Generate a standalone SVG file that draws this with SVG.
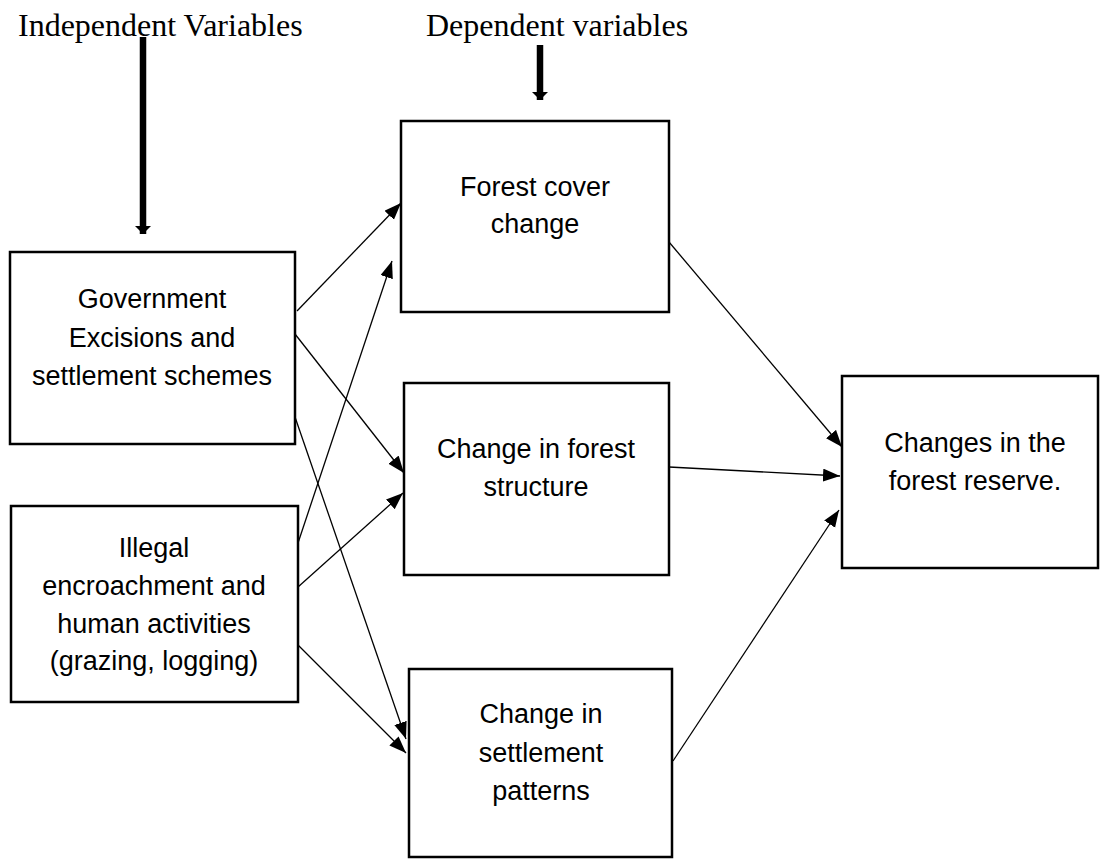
<svg xmlns="http://www.w3.org/2000/svg" width="1100" height="859" viewBox="0 0 1100 859">
<defs>
<style>
.box{fill:#fff;stroke:#000;stroke-width:2.5}
.t{font-family:"Liberation Sans",Arial,sans-serif;font-size:27px;fill:#000;text-anchor:middle}
.h{font-family:"Liberation Serif","Times New Roman",serif;font-size:32px;fill:#000}
.c{stroke:#000;stroke-width:1.3;fill:none;marker-end:url(#ah)}
.thick{stroke:#000;stroke-width:6.5;fill:none;marker-end:url(#ahb)}
</style>
<marker id="ah" markerUnits="userSpaceOnUse" markerWidth="18" markerHeight="14" refX="17" refY="6.5" orient="auto">
<path d="M0,0 L17,6.5 L0,13 Z" fill="#000"/>
</marker>
<marker id="ahb" markerUnits="userSpaceOnUse" markerWidth="16" markerHeight="16" refX="8" refY="8" orient="auto">
<path d="M0,0 L8,8 L0,16 Z" fill="#000"/>
</marker>
</defs>
<rect width="1100" height="859" fill="#fff"/>

<g id="headers">
<text class="h" x="18" y="36">Independent Variables</text>
<text class="h" x="426" y="36">Dependent variables</text>
</g>

<g id="connectors">
<line class="thick" x1="143" y1="37" x2="143" y2="234"/>
<line class="thick" x1="540" y1="45" x2="540" y2="100"/>
<line class="c" x1="297" y1="311" x2="401" y2="203"/>
<line class="c" x1="295" y1="334" x2="404" y2="473"/>
<line class="c" x1="295" y1="417" x2="406" y2="739"/>
<line class="c" x1="298" y1="543" x2="392" y2="261"/>
<line class="c" x1="298" y1="587" x2="403" y2="493"/>
<line class="c" x1="298" y1="645" x2="406" y2="753"/>
<line class="c" x1="669" y1="242" x2="842" y2="447"/>
<line class="c" x1="669" y1="467" x2="840" y2="476"/>
<line class="c" x1="673" y1="761" x2="839" y2="510"/>
</g>

<g id="node-government">
<rect class="box" x="10" y="252" width="285" height="192"/>
<text class="t" x="152" y="308">Government</text>
<text class="t" x="152" y="347">Excisions and</text>
<text class="t" x="152" y="385">settlement schemes</text>
</g>

<g id="node-illegal">
<rect class="box" x="11" y="506" width="287" height="196"/>
<text class="t" x="154" y="557">Illegal</text>
<text class="t" x="154" y="595">encroachment and</text>
<text class="t" x="154" y="633">human activities</text>
<text class="t" x="154" y="670">(grazing, logging)</text>
</g>

<g id="node-forest-cover">
<rect class="box" x="401" y="121" width="268" height="191"/>
<text class="t" x="535" y="196">Forest cover</text>
<text class="t" x="535" y="233">change</text>
</g>

<g id="node-forest-structure">
<rect class="box" x="404" y="383" width="265" height="192"/>
<text class="t" x="536" y="458">Change in forest</text>
<text class="t" x="536" y="496">structure</text>
</g>

<g id="node-settlement">
<rect class="box" x="409" y="669" width="263" height="188"/>
<text class="t" x="541" y="723">Change in</text>
<text class="t" x="541" y="762">settlement</text>
<text class="t" x="541" y="800">patterns</text>
</g>

<g id="node-reserve">
<rect class="box" x="842" y="376" width="256" height="192"/>
<text class="t" x="975" y="452">Changes in the</text>
<text class="t" x="975" y="490">forest reserve.</text>
</g>
</svg>
